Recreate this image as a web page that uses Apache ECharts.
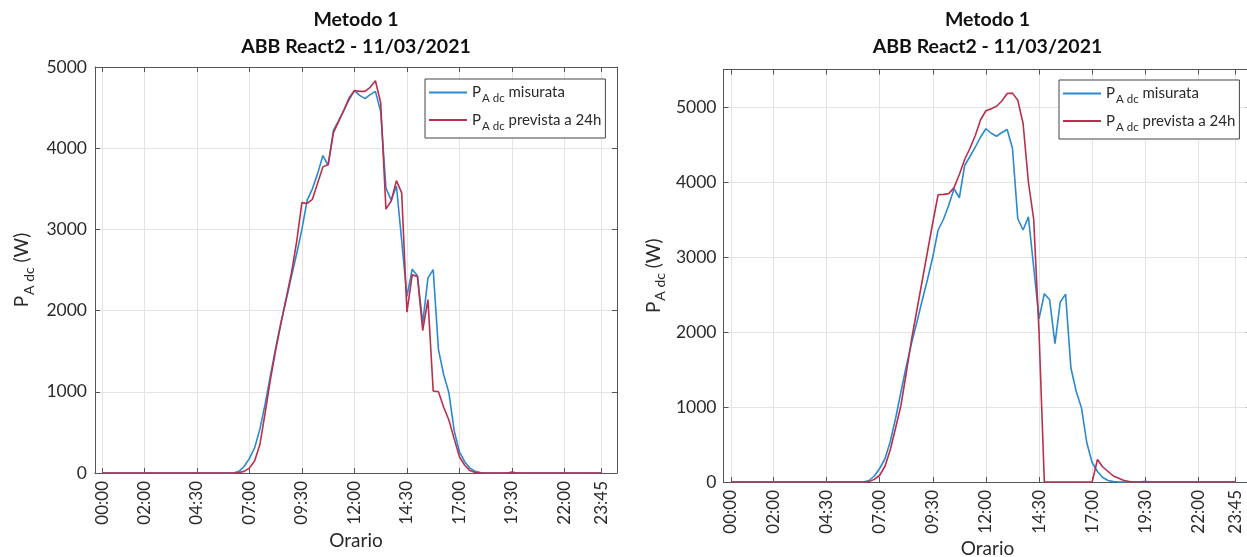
<!DOCTYPE html>
<html>
<head>
<meta charset="utf-8">
<script src="https://cdn.jsdelivr.net/npm/echarts@6/dist/echarts.min.js"></script>
<style>html,body{margin:0;padding:0;background:#fff}#c{width:1247px;height:557px}</style>
</head>
<body>
<div id="c"></div>
<script>
const times = [
 '00:00','00:15','00:30','00:45','01:00','01:15','01:30','01:45','02:00','02:15','02:30','02:45',
 '03:00','03:15','03:30','03:45','04:00','04:15','04:30','04:45','05:00','05:15','05:30','05:45',
 '06:00','06:15','06:30','06:45','07:00','07:15','07:30','07:45','08:00','08:15','08:30','08:45',
 '09:00','09:15','09:30','09:45','10:00','10:15','10:30','10:45','11:00','11:15','11:30','11:45',
 '12:00','12:15','12:30','12:45','13:00','13:15','13:30','13:45','14:00','14:15','14:30','14:45',
 '15:00','15:15','15:30','15:45','16:00','16:15','16:30','16:45','17:00','17:15','17:30','17:45',
 '18:00','18:15','18:30','18:45','19:00','19:15','19:30','19:45','20:00','20:15','20:30','20:45',
 '21:00','21:15','21:30','21:45','22:00','22:15','22:30','22:45','23:00','23:15','23:30','23:45'
];
const tickLabels = ['00:00','02:00','04:30','07:00','09:30','12:00','14:30','17:00','19:30','22:00','23:45'];

// P_A dc misurata (same measured series on both panels)
const misurata = [
 0,0,0,0,0,0,0,0,0,0,0,0,
 0,0,0,0,0,0,0,0,0,0,0,0,
 0,0,20,80,180,310,540,850,1200,1540,1850,2130,
 2420,2700,3000,3360,3500,3690,3910,3790,4220,4340,4465,4600,
 4710,4650,4610,4660,4700,4450,3510,3360,3535,2860,2175,2510,
 2430,1845,2400,2505,1520,1210,985,520,260,140,60,20,
 5,0,0,0,0,0,8,0,0,0,0,0,
 0,0,0,0,0,0,0,0,0,0,0,0
];
// P_A dc prevista a 24h - left panel
const previstaSx = [
 0,0,0,0,0,0,0,0,0,0,0,0,
 0,0,0,0,0,0,0,0,0,0,0,0,
 0,0,5,20,60,150,350,740,1150,1510,1840,2150,
 2460,2850,3330,3320,3370,3570,3770,3800,4190,4330,4470,4620,
 4710,4700,4700,4750,4830,4560,3250,3350,3600,3450,1980,2440,
 2420,1755,2135,1010,1000,810,650,420,200,95,30,5,
 0,0,0,0,0,0,10,0,0,0,0,0,
 0,0,0,0,0,0,0,0,0,0,0,0
];
// P_A dc prevista a 24h - right panel
const previstaDx = [
 0,0,0,0,0,0,0,0,0,0,0,0,
 0,0,0,0,0,0,0,0,0,0,0,0,
 0,0,5,35,90,210,430,720,1020,1450,1900,2290,
 2680,3070,3460,3830,3835,3845,3925,4100,4300,4450,4620,4830,
 4950,4975,5010,5080,5180,5185,5090,4780,4000,3500,2000,0,
 0,0,0,0,0,0,0,0,0,300,200,140,
 80,50,20,5,0,0,0,0,0,0,0,0,
 0,0,0,0,0,0,0,0,0,0,0,0
];

const panelTitle1 = 'Metodo 1';
const panelTitle2 = 'ABB React2 - 11/03/2021';
const nameMis = 'misurata';
const namePrev = 'prevista a 24h';

function toHours(s){ const p = s.split(':'); return +p[0] + (+p[1])/60; }
const tickHours = tickLabels.map(toHours);
function pairs(arr){ return times.map((t,i)=>[toHours(t), arr[i]]); }
function labelFor(v){
  for (let i=0;i<tickHours.length;i++) if (Math.abs(tickHours[i]-v) < 1e-6) return tickLabels[i];
  return '';
}

const FONT = 'Lato';
const AX = '#555555';
const TXT = '#2a2a2a';
const GRIDC = '#e4e4e4';
const BLUE = '#2a8ad0';
const RED = '#bb2e4c';

const grids = [
  {left:95, top:67, width:522, height:406},
  {left:723.5, top:69.5, width:528, height:412.5}
];
const yMax = [5000, 5500];

const xAxes = [], yAxes = [];
grids.forEach((g, gi) => {
  xAxes.push({
    type:'value', gridIndex:gi, position:'bottom', min:-0.35, max:24.5,
    axisLine:{show:true, onZero:false, lineStyle:{color:AX, width:1}},
    axisTick:{show:true, inside:true, length:5, customValues:tickHours, lineStyle:{color:AX}},
    axisLabel:{show:true, customValues:tickHours, rotate:90, margin:8, formatter:labelFor,
      fontFamily:FONT, fontSize:17, color:TXT},
    splitLine:{show:true, lineStyle:{color:GRIDC, width:1}},
    name:'Orario', nameLocation:'middle', nameGap:[58,57][gi], nameMoveOverlap:false,
    nameTextStyle:{fontFamily:FONT, fontSize:19, color:TXT}
  });
  xAxes.push({
    type:'value', gridIndex:gi, position:'top', min:-0.35, max:24.5,
    axisLine:{show:true, onZero:false, lineStyle:{color:AX, width:1}},
    axisTick:{show:true, inside:true, length:5, customValues:tickHours, lineStyle:{color:AX}},
    axisLabel:{show:false, customValues:tickHours},
    splitLine:{show:false}
  });
  yAxes.push({
    type:'value', gridIndex:gi, position:'left', min:0, max:yMax[gi], interval:1000,
    axisLine:{show:true, onZero:false, lineStyle:{color:AX, width:1}},
    axisTick:{show:true, inside:true, length:5, lineStyle:{color:AX}},
    axisLabel:{show:true, margin:[8,7][gi], showMaxLabel: gi===0, formatter: v => String(v),
      fontFamily:FONT, fontSize:17.5, color:TXT},
    splitLine:{show:true, lineStyle:{color:GRIDC, width:1}},
    name:'{p|P}{s|A dc}{p| (W)}', nameLocation:'middle', nameGap:[59,56][gi], nameRotate:90,
    nameMoveOverlap:false,
    nameTextStyle:{fontFamily:FONT, color:TXT,
      rich:{p:{fontFamily:FONT, fontSize:19, color:TXT}, s:{fontFamily:FONT, fontSize:14, color:TXT, padding:[14,0,0,1]}}}
  });
  yAxes.push({
    type:'value', gridIndex:gi, position:'right', min:0, max:yMax[gi], interval:1000,
    axisLine:{show:true, onZero:false, lineStyle:{color:AX, width:1}},
    axisTick:{show:true, inside:true, length:5, lineStyle:{color:AX}},
    axisLabel:{show:false}, splitLine:{show:false}
  });
});

function lineSeries(name, data, color, gi){
  return {type:'line', name, data:pairs(data), xAxisIndex:gi*2, yAxisIndex:gi*2,
    symbol:'none', showSymbol:false, smooth:false, clip:true,
    lineStyle:{color, width:1.6}, itemStyle:{color}, emphasis:{disabled:true}, z:3};
}

const legendRich = {
  p:{fontFamily:FONT, fontSize:15, color:TXT},
  s:{fontFamily:FONT, fontSize:11.5, color:TXT, padding:[12,0,0,1]},
  t:{fontFamily:FONT, fontSize:15, color:TXT}
};
function legendCfg(left, top){
  return {left, top, orient:'vertical', padding:[6,4,6,4], itemGap:8, itemWidth:38, itemHeight:2,
    icon:'rect', itemTextGap:6, backgroundColor:'#fff', borderColor:'#444', borderWidth:1, borderRadius:0,
    data:[nameMis, namePrev], selectedMode:false,
    formatter: n => '{p|P}{s|A dc}{t| ' + n + '}',
    textStyle:{fontFamily:FONT, fontSize:15, color:TXT, rich:legendRich}};
}

function titleGraphics(cx){
  return [
    {type:'text', x:cx, y:20, style:{text:panelTitle1, font:'bold 19.5px ' + FONT, fill:'#111', align:'center', verticalAlign:'middle'}},
    {type:'text', x:cx, y:47, style:{text:panelTitle2, font:'bold 19.5px ' + FONT, fill:'#111', align:'center', verticalAlign:'middle'}}
  ];
}

const chart = echarts.init(document.getElementById('c'), null, {renderer:'canvas'});
chart.setOption({
  animation:false,
  backgroundColor:'#ffffff',
  grid: grids.map(g => Object.assign({containLabel:false, outerBoundsMode:'none'}, g)),
  xAxis: xAxes,
  yAxis: yAxes,
  legend: [legendCfg(425, 79), legendCfg(1059, 80)],
  graphic: titleGraphics(356).concat(titleGraphics(987.5)),
  series: [
    lineSeries(nameMis, misurata, BLUE, 0),
    lineSeries(namePrev, previstaSx, RED, 0),
    lineSeries(nameMis, misurata, BLUE, 1),
    lineSeries(namePrev, previstaDx, RED, 1)
  ]
});
</script>
</body>
</html>
